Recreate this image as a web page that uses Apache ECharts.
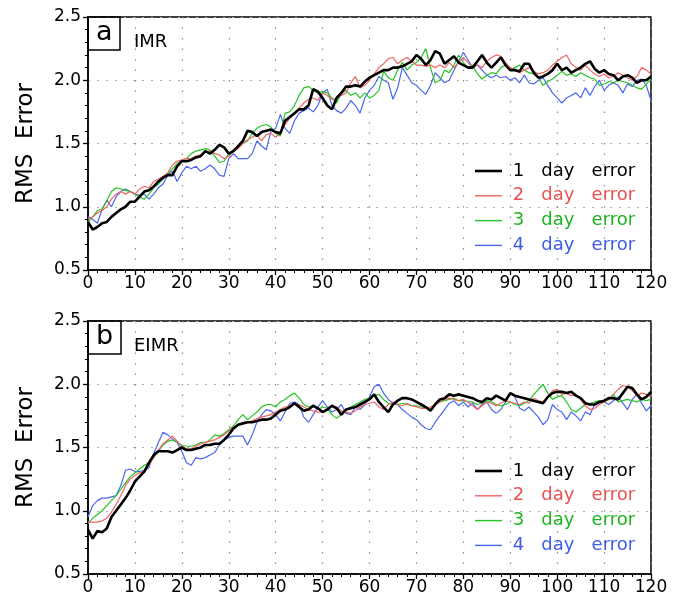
<!DOCTYPE html>
<html><head><meta charset="utf-8">
<script src="https://cdn.jsdelivr.net/npm/echarts@6/dist/echarts.min.js"></script>
<style>html,body{margin:0;padding:0;background:#fff}#c{width:675px;height:600px}</style>
</head><body><div id="c"></div><script>
// Lead time in days (0..120)
const days = Array.from({length:121}, (_, i) => i);
const seriesNames = ['1 day error','2 day error','3 day error','4 day error'];
const yTicks = [0.5, 1.0, 1.5, 2.0, 2.5];
const panelLabels = ['a','b'];
const panelTitles = ['IMR','EIMR'];

// Panel a: IMR
const imr1 = [0.88,0.82,0.84,0.87,0.88,0.92,0.95,0.98,1.00,1.04,
1.04,1.08,1.12,1.13,1.16,1.20,1.23,1.25,1.25,1.32,
1.36,1.36,1.37,1.39,1.40,1.44,1.42,1.45,1.49,1.47,
1.42,1.44,1.48,1.52,1.60,1.59,1.56,1.59,1.60,1.61,
1.59,1.58,1.68,1.71,1.74,1.77,1.77,1.80,1.93,1.91,
1.86,1.80,1.77,1.86,1.90,1.95,1.95,1.96,1.95,1.99,
2.02,2.04,2.06,2.08,2.08,2.10,2.10,2.11,2.13,2.15,
2.20,2.17,2.12,2.16,2.23,2.21,2.13,2.16,2.19,2.14,
2.12,2.10,2.10,2.15,2.20,2.14,2.10,2.14,2.18,2.12,
2.08,2.08,2.07,2.13,2.13,2.06,2.02,2.03,2.05,2.08,
2.13,2.08,2.10,2.06,2.08,2.10,2.13,2.15,2.09,2.06,
2.08,2.05,2.04,2.00,2.03,2.04,2.02,1.98,2.00,2.00,
2.03];
const imr2 = [0.90,0.92,0.95,0.97,1.00,1.06,1.10,1.12,1.10,1.12,
1.10,1.14,1.16,1.15,1.20,1.22,1.24,1.27,1.33,1.36,
1.37,1.38,1.38,1.40,1.41,1.43,1.44,1.42,1.41,1.38,
1.40,1.44,1.46,1.50,1.53,1.55,1.57,1.52,1.57,1.58,
1.55,1.58,1.65,1.70,1.73,1.78,1.82,1.85,1.86,1.84,
1.90,1.88,1.85,1.86,1.88,1.90,1.98,2.03,1.94,1.96,
2.00,2.05,2.10,2.13,2.17,2.18,2.13,2.16,2.18,2.15,
2.12,2.12,2.11,2.12,2.10,2.12,2.10,2.14,2.10,2.14,
2.18,2.14,2.10,2.12,2.10,2.15,2.18,2.20,2.19,2.14,
2.10,2.08,2.06,2.08,2.10,2.07,2.05,2.06,2.08,2.12,
2.15,2.18,2.20,2.13,2.10,2.08,2.12,2.08,2.05,2.03,
2.05,2.02,2.03,2.06,2.04,2.02,2.00,2.03,2.10,2.08,
2.05];
const imr3 = [0.88,0.92,0.97,0.98,1.05,1.12,1.15,1.14,1.13,1.12,
1.10,1.08,1.06,1.10,1.15,1.18,1.22,1.26,1.30,1.34,
1.37,1.38,1.42,1.44,1.45,1.46,1.45,1.40,1.35,1.36,
1.42,1.45,1.47,1.50,1.52,1.58,1.62,1.64,1.65,1.63,
1.58,1.56,1.74,1.75,1.80,1.88,1.94,1.95,1.92,1.90,
1.91,1.90,1.86,1.82,1.90,1.92,1.88,1.90,1.86,1.90,
1.86,1.88,1.92,2.07,2.02,2.00,2.08,2.14,2.08,2.12,
2.14,2.18,2.25,2.10,1.98,2.00,2.08,2.06,2.12,2.20,
2.14,2.10,2.12,2.05,2.01,2.04,2.06,2.05,2.10,2.12,
2.08,2.10,2.12,2.08,2.06,2.05,2.02,1.96,1.99,2.01,
2.04,2.07,2.04,2.05,2.03,2.06,2.04,2.02,2.01,1.96,
1.97,1.99,1.98,2.00,1.99,1.98,1.96,1.94,1.93,1.97,
2.01];
const imr4 = [0.92,0.90,0.87,0.98,1.05,1.00,1.08,1.12,1.14,1.12,
1.10,1.09,1.10,1.06,1.10,1.15,1.18,1.25,1.28,1.20,
1.27,1.32,1.30,1.32,1.28,1.30,1.33,1.30,1.25,1.24,
1.38,1.42,1.38,1.38,1.38,1.42,1.52,1.48,1.45,1.60,
1.62,1.73,1.62,1.58,1.68,1.74,1.76,1.78,1.75,1.80,
1.90,1.93,1.80,1.76,1.74,1.78,1.84,1.80,1.74,1.86,
1.92,1.96,2.03,2.00,1.98,1.85,1.94,2.10,2.04,1.98,
1.96,1.92,1.89,1.96,2.06,2.02,1.98,2.00,2.08,2.15,
2.22,2.16,2.10,2.12,2.08,2.04,2.02,2.04,2.02,2.03,
2.00,2.02,1.98,2.04,1.98,1.97,2.00,2.02,1.96,1.90,
1.86,1.82,1.86,1.88,1.90,1.86,1.94,1.88,1.95,2.00,
1.92,1.96,1.98,1.96,1.90,1.97,1.95,2.00,2.01,1.96,
1.84];

// Panel b: EIMR
const eimr1 = [0.85,0.78,0.84,0.83,0.86,0.95,1.00,1.05,1.10,1.16,
1.23,1.27,1.31,1.38,1.44,1.47,1.47,1.47,1.46,1.48,
1.50,1.48,1.48,1.49,1.50,1.52,1.52,1.53,1.53,1.56,
1.60,1.65,1.68,1.69,1.70,1.70,1.71,1.72,1.72,1.73,
1.76,1.79,1.80,1.82,1.85,1.82,1.79,1.80,1.83,1.81,
1.78,1.80,1.83,1.81,1.76,1.80,1.81,1.82,1.84,1.86,
1.88,1.92,1.86,1.82,1.78,1.84,1.87,1.89,1.89,1.88,
1.86,1.84,1.82,1.79,1.84,1.88,1.89,1.92,1.91,1.92,
1.91,1.90,1.89,1.87,1.86,1.89,1.88,1.91,1.89,1.87,
1.93,1.91,1.90,1.89,1.88,1.87,1.86,1.85,1.90,1.93,
1.94,1.94,1.93,1.94,1.91,1.89,1.85,1.84,1.84,1.86,
1.87,1.89,1.89,1.88,1.93,1.98,1.97,1.92,1.88,1.90,
1.94];
const eimr2 = [0.91,0.91,0.91,0.92,0.94,0.99,1.05,1.12,1.20,1.25,
1.28,1.30,1.31,1.36,1.42,1.48,1.53,1.56,1.59,1.55,
1.51,1.49,1.49,1.51,1.53,1.54,1.55,1.56,1.58,1.60,
1.63,1.66,1.68,1.70,1.70,1.71,1.73,1.74,1.75,1.76,
1.78,1.80,1.82,1.83,1.84,1.84,1.82,1.80,1.79,1.78,
1.78,1.81,1.83,1.82,1.79,1.78,1.77,1.79,1.82,1.84,
1.85,1.86,1.82,1.80,1.84,1.86,1.84,1.83,1.85,1.83,
1.82,1.81,1.81,1.82,1.84,1.86,1.88,1.89,1.88,1.87,
1.88,1.86,1.83,1.80,1.83,1.86,1.85,1.83,1.85,1.87,
1.86,1.85,1.84,1.86,1.85,1.89,1.87,1.86,1.90,1.95,
1.96,1.92,1.93,1.91,1.92,1.88,1.83,1.80,1.81,1.84,
1.86,1.88,1.92,1.96,1.99,1.98,1.95,1.91,1.93,1.92,
1.90];
const eimr3 = [0.90,0.94,0.97,1.00,1.04,1.08,1.12,1.17,1.22,1.27,
1.30,1.33,1.36,1.38,1.42,1.47,1.52,1.55,1.56,1.54,
1.52,1.51,1.51,1.52,1.54,1.54,1.56,1.60,1.59,1.61,
1.64,1.67,1.72,1.76,1.72,1.75,1.78,1.82,1.84,1.84,
1.82,1.86,1.88,1.91,1.93,1.89,1.84,1.82,1.83,1.80,
1.82,1.81,1.76,1.73,1.76,1.80,1.82,1.84,1.86,1.88,
1.89,1.91,1.92,1.88,1.85,1.84,1.84,1.85,1.84,1.83,
1.83,1.82,1.81,1.80,1.84,1.86,1.87,1.88,1.89,1.87,
1.87,1.86,1.86,1.84,1.85,1.87,1.86,1.84,1.83,1.84,
1.86,1.84,1.83,1.85,1.87,1.92,1.96,2.00,1.93,1.88,
1.90,1.91,1.86,1.80,1.78,1.81,1.84,1.85,1.86,1.87,
1.86,1.88,1.92,1.86,1.87,1.88,1.87,1.86,1.88,1.87,
1.88];
const eimr4 = [0.95,1.04,1.08,1.10,1.10,1.11,1.12,1.20,1.32,1.33,
1.31,1.31,1.32,1.34,1.45,1.54,1.62,1.60,1.57,1.54,
1.47,1.38,1.36,1.42,1.41,1.42,1.44,1.46,1.52,1.56,
1.58,1.59,1.59,1.59,1.52,1.60,1.70,1.76,1.80,1.79,
1.76,1.71,1.78,1.85,1.86,1.84,1.74,1.70,1.76,1.82,
1.87,1.82,1.78,1.80,1.84,1.77,1.76,1.82,1.80,1.84,
1.90,1.98,2.00,1.93,1.88,1.85,1.84,1.80,1.77,1.74,
1.72,1.68,1.65,1.64,1.70,1.75,1.80,1.85,1.87,1.83,
1.86,1.82,1.85,1.80,1.84,1.86,1.80,1.77,1.80,1.86,
1.93,1.90,1.81,1.79,1.82,1.78,1.74,1.68,1.72,1.84,
1.80,1.78,1.72,1.78,1.75,1.71,1.78,1.76,1.84,1.85,
1.86,1.84,1.87,1.90,1.85,1.80,1.88,1.92,1.85,1.79,
1.83];

const lineColors = ['#000000','#f06464','#24c424','#4a66ee'];
const textColors = ['#000000','#e85252','#1fb41f','#3f5ce6'];
const lineWidths = [2.6, 1.2, 1.2, 1.2];
const FONT = 'DejaVu Sans';

const panels = [[imr1, imr2, imr3, imr4], [eimr1, eimr2, eimr3, eimr4]];
const gridTops = [17, 321];
const gridHeight = 253;
const legendTops = [161, 461];

function pairs(arr){ return arr.map((v, i) => [days[i], v]); }

// legend sample: horizontal bar in a 27x20 box (leading M points fix the box)
function lineIcon(w){
  const a = (10 - w / 2).toFixed(2), b = (10 + w / 2).toFixed(2);
  return 'path://M0,0M27,20M0,' + a + 'L27,' + a + 'L27,' + b + 'L0,' + b + 'Z';
}

const grids = gridTops.map(t => ({left: 88, top: t, width: 563, height: gridHeight,
  show: true, borderColor: '#000', borderWidth: 1.5, backgroundColor: 'transparent'}));

const xAxes = gridTops.map((t, gi) => ({
  gridIndex: gi, type: 'value', min: 0, max: 120, interval: 10,
  axisLine: {show: true, onZero: false, lineStyle: {color: '#000', width: 1.5}},
  axisTick: {show: true, inside: false, length: 5, lineStyle: {color: '#000', width: 1.3}},
  minorTick: {show: true, splitNumber: 5, length: 3, lineStyle: {color: '#000', width: 1}},
  axisLabel: {color: '#000', fontSize: 17, fontFamily: FONT, margin: 5},
  splitLine: {show: true, lineStyle: {color: '#8a8a8a', width: 1.2, type: [1.5, 9]}}
}));

const yAxes = gridTops.map((t, gi) => ({
  gridIndex: gi, type: 'value', min: yTicks[0], max: yTicks[yTicks.length-1], interval: 0.5,
  name: 'RMS  Error', nameLocation: 'middle', nameGap: 50,
  nameTextStyle: {color: '#000', fontSize: 23, fontFamily: FONT},
  axisLine: {show: true, lineStyle: {color: '#000', width: 1.5}},
  axisTick: {show: true, inside: false, length: 5, lineStyle: {color: '#000', width: 1.3}},
  minorTick: {show: true, splitNumber: 5, length: 3, lineStyle: {color: '#000', width: 1}},
  axisLabel: {color: '#000', fontSize: 17, fontFamily: FONT, margin: 7, formatter: v => v.toFixed(1)},
  splitLine: {show: true, lineStyle: {color: '#b0b0b0', width: 1.2, type: [2, 7]}}
}));

const series = [];
panels.forEach((sets, gi) => {
  [3, 2, 1, 0].forEach(k => {
    series.push({
      name: seriesNames[k], type: 'line', xAxisIndex: gi, yAxisIndex: gi,
      data: pairs(sets[k]), symbol: 'none', showSymbol: false, smooth: false,
      z: k === 0 ? 5 : 3,
      lineStyle: {color: lineColors[k], width: lineWidths[k]},
      itemStyle: {color: lineColors[k]},
      emphasis: {disabled: true}
    });
  });
});

const legends = legendTops.map(top => ({
  orient: 'vertical', left: 475, top: top, padding: 0,
  itemWidth: 27, itemHeight: 20, itemGap: 4.8,
  selectedMode: false,
  itemStyle: {borderWidth: 0},
  data: seriesNames.map((n, k) => ({name: n, icon: lineIcon(k === 0 ? 2.6 : 1.4),
    itemStyle: {color: lineColors[k], borderWidth: 0},
    textStyle: {color: textColors[k]}})),
  textStyle: {fontSize: 18, fontFamily: FONT, lineHeight: 20},
  formatter: n => ' ' + n.replace(/ /g, '   ')
}));

const titles = [];
gridTops.forEach((t, gi) => {
  titles.push({text: panelLabels[gi], left: 88, top: t, padding: [1, 8, 2, 8],
    borderColor: '#000', borderWidth: 1.5,
    textStyle: {fontSize: 27, fontWeight: 'normal', fontFamily: FONT, color: '#000', lineHeight: 30}});
  titles.push({text: panelTitles[gi], left: 134, top: t + 16, padding: 0,
    textStyle: {fontSize: 18, fontWeight: 'normal', fontFamily: FONT, color: '#000'}});
});

const chart = echarts.init(document.getElementById('c'), null, {renderer: 'canvas'});
chart.setOption({
  animation: false,
  backgroundColor: '#fff',
  title: titles,
  grid: grids,
  xAxis: xAxes,
  yAxis: yAxes,
  legend: legends,
  series: series
});
</script></body></html>
